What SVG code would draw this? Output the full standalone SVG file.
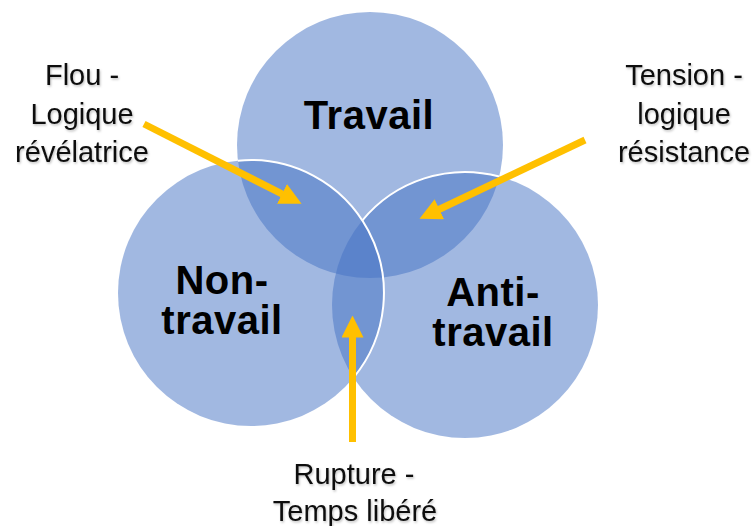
<svg xmlns="http://www.w3.org/2000/svg" width="752" height="526" viewBox="0 0 752 526">
<style>
.c{fill:#4472C4;fill-opacity:0.5;stroke:none}
.edge{fill:none;stroke:#ffffff;stroke-width:2}
.arr{fill:none;stroke:#FFC000;stroke-width:7;marker-end:url(#head)}
.lbl{font-family:"Liberation Sans",Arial,sans-serif;font-size:29px;fill:#111;text-anchor:middle;filter:url(#sh)}
.big{font-family:"Liberation Sans",Arial,sans-serif;font-size:40px;font-weight:bold;fill:#000;text-anchor:middle;letter-spacing:0.5px}
</style>
<defs>
<marker id="head" viewBox="0 0 22 22" markerWidth="22" markerHeight="22" refX="0.5" refY="11" orient="auto" markerUnits="userSpaceOnUse">
<path d="M0,0 L22,11 L0,22 z" fill="#FFC000"/>
</marker>
<filter id="sh" x="-10%" y="-20%" width="120%" height="150%">
<feDropShadow dx="1" dy="1.5" stdDeviation="1" flood-color="#000" flood-opacity="0.25"/>
</filter>
</defs>
<rect width="752" height="526" fill="#ffffff"/>
<g id="travail">
<circle class="c" cx="370" cy="145" r="133"/>
<text class="big" x="369" y="129">Travail</text>
</g>
<g id="anti-travail">
<circle class="c" cx="465" cy="305" r="133"/>
<text class="big" x="493" y="306">Anti-</text>
<text class="big" x="493" y="346">travail</text>
</g>
<g id="non-travail">
<circle class="c" cx="251" cy="293" r="133"/>
<text class="big" x="222" y="294">Non-</text>
<text class="big" x="222" y="334">travail</text>
</g>
<g id="edges">
<path class="edge" d="M499.2,176.5 A133,133 0 0 0 362.4,220.4"/>
<path class="edge" d="M237.9,160.7 A133,133 0 0 1 353.6,377.6"/>
</g>
<g id="flou">
<text class="lbl" x="82" y="85">Flou -</text>
<text class="lbl" x="82" y="124">Logique</text>
<text class="lbl" x="82" y="162">révélatrice</text>
</g>
<g id="tension">
<text class="lbl" x="684" y="85">Tension -</text>
<text class="lbl" x="684" y="124">logique</text>
<text class="lbl" x="684" y="162">résistance</text>
</g>
<g id="rupture">
<text class="lbl" x="354" y="484">Rupture -</text>
<text class="lbl" x="355" y="521">Temps libéré</text>
</g>
<g id="connectors">
<line class="arr" x1="144" y1="124" x2="282.4" y2="194.1"/>
<line class="arr" x1="585" y1="140" x2="438.9" y2="209.5"/>
<line class="arr" x1="352.5" y1="442" x2="352.5" y2="337"/>
</g>
</svg>
